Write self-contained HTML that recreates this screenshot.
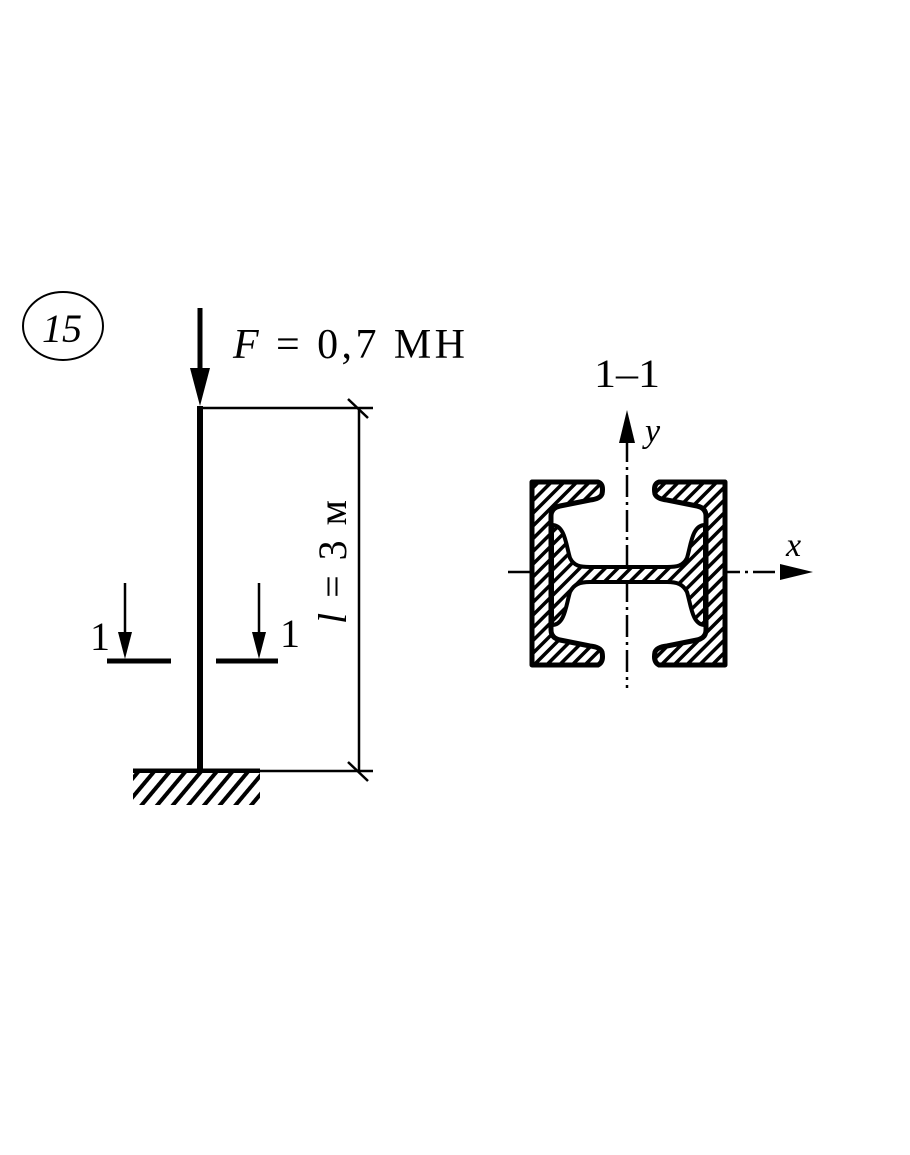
<!DOCTYPE html>
<html><head><meta charset="utf-8"><style>
html,body{margin:0;padding:0;background:#fff;}
svg{display:block;}
text{font-family:"Liberation Serif",serif;fill:#000;}
</style></head><body>
<svg width="910" height="1155" viewBox="0 0 910 1155" xmlns="http://www.w3.org/2000/svg">
<defs>
<pattern id="h" width="9" height="9" patternUnits="userSpaceOnUse" patternTransform="rotate(45)">
<rect width="9" height="9" fill="#fff"/><rect width="3.5" height="9" fill="#000"/>
</pattern>
<pattern id="g" width="12" height="12" patternUnits="userSpaceOnUse" patternTransform="rotate(40)">
<rect width="12" height="12" fill="#fff"/><rect width="4" height="12" fill="#000"/>
</pattern>
</defs>
<ellipse cx="63" cy="326" rx="40" ry="34" fill="none" stroke="#000" stroke-width="2"/>
<text x="62" y="342" font-size="40" font-style="italic" text-anchor="middle">15</text>
<line x1="200" y1="308" x2="200" y2="375" stroke="#000" stroke-width="5"/>
<polygon points="190,368 210,368 200,406" fill="#000"/>
<text x="233" y="358" font-size="42" textLength="232" lengthAdjust="spacing"><tspan font-style="italic">F</tspan> = 0,7 MH</text>
<line x1="200" y1="406" x2="200" y2="770" stroke="#000" stroke-width="6"/>
<line x1="200" y1="408" x2="373" y2="408" stroke="#000" stroke-width="2.5"/>
<line x1="133" y1="771" x2="373" y2="771" stroke="#000" stroke-width="2.5"/>
<line x1="133" y1="771" x2="260" y2="771" stroke="#000" stroke-width="5"/>
<rect x="133" y="773" width="127" height="32" fill="url(#g)"/>
<line x1="359" y1="408" x2="359" y2="771" stroke="#000" stroke-width="2.5"/>
<line x1="348" y1="399" x2="368" y2="418" stroke="#000" stroke-width="2.5"/>
<line x1="348" y1="762" x2="368" y2="781" stroke="#000" stroke-width="2.5"/>
<text transform="translate(346,562) rotate(-90)" font-size="40" text-anchor="middle" textLength="124" lengthAdjust="spacing"><tspan font-style="italic">l</tspan> = 3 м</text>
<line x1="107" y1="661" x2="171" y2="661" stroke="#000" stroke-width="5"/>
<line x1="125" y1="583" x2="125" y2="640" stroke="#000" stroke-width="2.5"/>
<polygon points="118,632 132,632 125,659" fill="#000"/>
<text x="90" y="650" font-size="40">1</text>
<line x1="216" y1="661" x2="278" y2="661" stroke="#000" stroke-width="5"/>
<line x1="259" y1="583" x2="259" y2="640" stroke="#000" stroke-width="2.5"/>
<polygon points="252,632 266,632 259,659" fill="#000"/>
<text x="280" y="647" font-size="40">1</text>
<text x="594" y="387" font-size="40" textLength="66" lengthAdjust="spacingAndGlyphs">1–1</text>
<line x1="627" y1="440" x2="627" y2="688" stroke="#000" stroke-width="2.5" stroke-dasharray="22,5,3,5"/>
<polygon points="619,443 635,443 627,410" fill="#000"/>
<text x="645" y="442" font-size="34" font-style="italic">y</text>
<line x1="508" y1="572" x2="785" y2="572" stroke="#000" stroke-width="2.5" stroke-dasharray="22,5,3,5"/>
<polygon points="780,564 780,580 813,572" fill="#000"/>
<text x="786" y="556" font-size="34" font-style="italic">x</text>
<path d="M532,482 L598,482 Q604,484 602,494 Q600,499 590,500 L560,506 Q551,508 551,516 L551,630 Q551,638 560,640 L590,646 Q600,647 602,652 Q604,662 598,665 L532,665 Z" fill="url(#h)" stroke="#000" stroke-width="5" stroke-linejoin="round"/>
<path d="M725,482 L659,482 Q653,484 655,494 Q657,499 667,500 L697,506 Q706,508 706,516 L706,630 Q706,638 697,640 L667,646 Q657,647 655,652 Q653,662 659,665 L725,665 Z" fill="url(#h)" stroke="#000" stroke-width="5" stroke-linejoin="round"/>
<path d="M552,525 C565,525 566,545 570,558 C574,566 580,567 590,567 L667,567 C677,567 683,566 687,558 C691,545 692,525 705,525 L705,625 C692,625 691,605 687,592 C683,584 677,582 667,582 L590,582 C580,582 574,584 570,592 C566,605 565,625 552,625 Z" fill="url(#h)" stroke="#000" stroke-width="4" stroke-linejoin="round"/>
</svg>
</body></html>
